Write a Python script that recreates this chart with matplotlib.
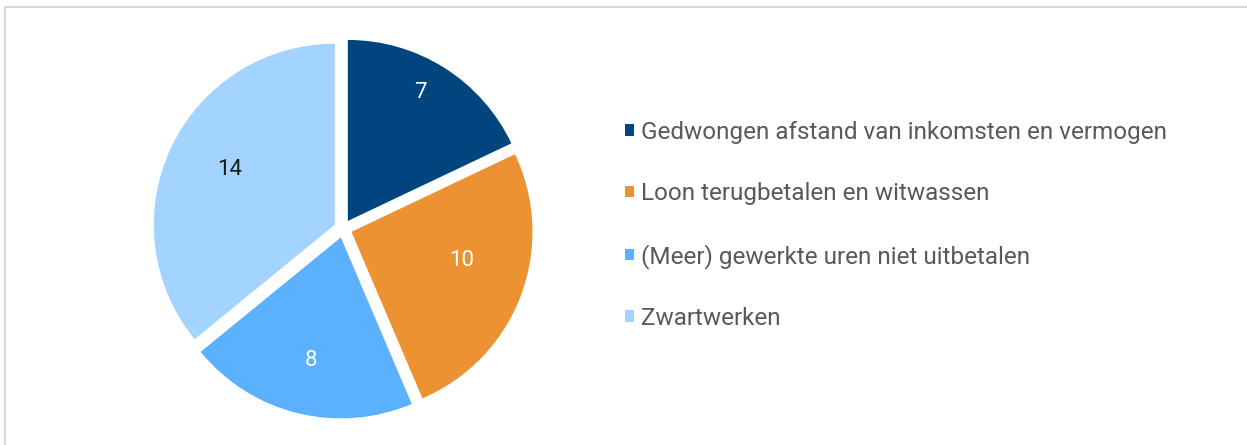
import matplotlib.pyplot as plt
from matplotlib.patches import Rectangle
import numpy as np

plt.rcParams['font.family'] = ['Roboto', 'DejaVu Sans']

categories = [
    "Gedwongen afstand van inkomsten en vermogen",
    "Loon terugbetalen en witwassen",
    "(Meer) gewerkte uren niet uitbetalen",
    "Zwartwerken",
]
values = [7, 10, 8, 14]
colors = ["#00457E", "#EC9233", "#5CB1FF", "#A3D3FF"]
label_colors = ["white", "white", "white", "#1a1a1a"]
label_dist = [0.814, 0.63, 0.70, 0.656]
label_nudge = [2.9, 6, 0, -2.6]

W, H = 1247, 445
fig = plt.figure(figsize=(W / 100, H / 100), dpi=100)

# light grey frame around the chart area
fig.patches.append(Rectangle((5 / W, -0.05), 1.1, (H - 7) / H + 0.05,
                             transform=fig.transFigure, fill=False,
                             edgecolor="#D9D9D9", linewidth=1.5))

L = 1.2
R_px = 181.0
side = 2 * L * R_px
cx, cy = 343.0, H - 228.6
ax = fig.add_axes([(cx - side / 2) / W, (cy - side / 2) / H, side / W, side / H])

explode = [0.05] * len(values)
wedges, _ = ax.pie(values, colors=colors, startangle=90, counterclock=False,
                   explode=explode, radius=1.0)
ax.set_xlim(-L, L)
ax.set_ylim(-L, L)
ax.set_aspect('equal')
ax.axis('off')

for w, v, e, d, nudge, tc in zip(wedges, values, explode, label_dist, label_nudge, label_colors):
    mid = np.deg2rad((w.theta1 + w.theta2) / 2)
    ex, ey = e * np.cos(mid), e * np.sin(mid)
    ang = mid + np.deg2rad(nudge)
    ax.text(ex + d * np.cos(ang), ey + d * np.sin(ang), str(v),
            ha='center', va='center', color=tc, fontsize=16)

leg = fig.legend(wedges, categories, loc='upper left',
                 bbox_to_anchor=(603 / W, 1 - 99 / H), frameon=False,
                 fontsize=17.5, handlelength=0.36, handleheight=0.36,
                 handletextpad=0.3, labelspacing=1.58)
for t in leg.get_texts():
    t.set_color("#595959")

fig.savefig("out.png", dpi=100)
